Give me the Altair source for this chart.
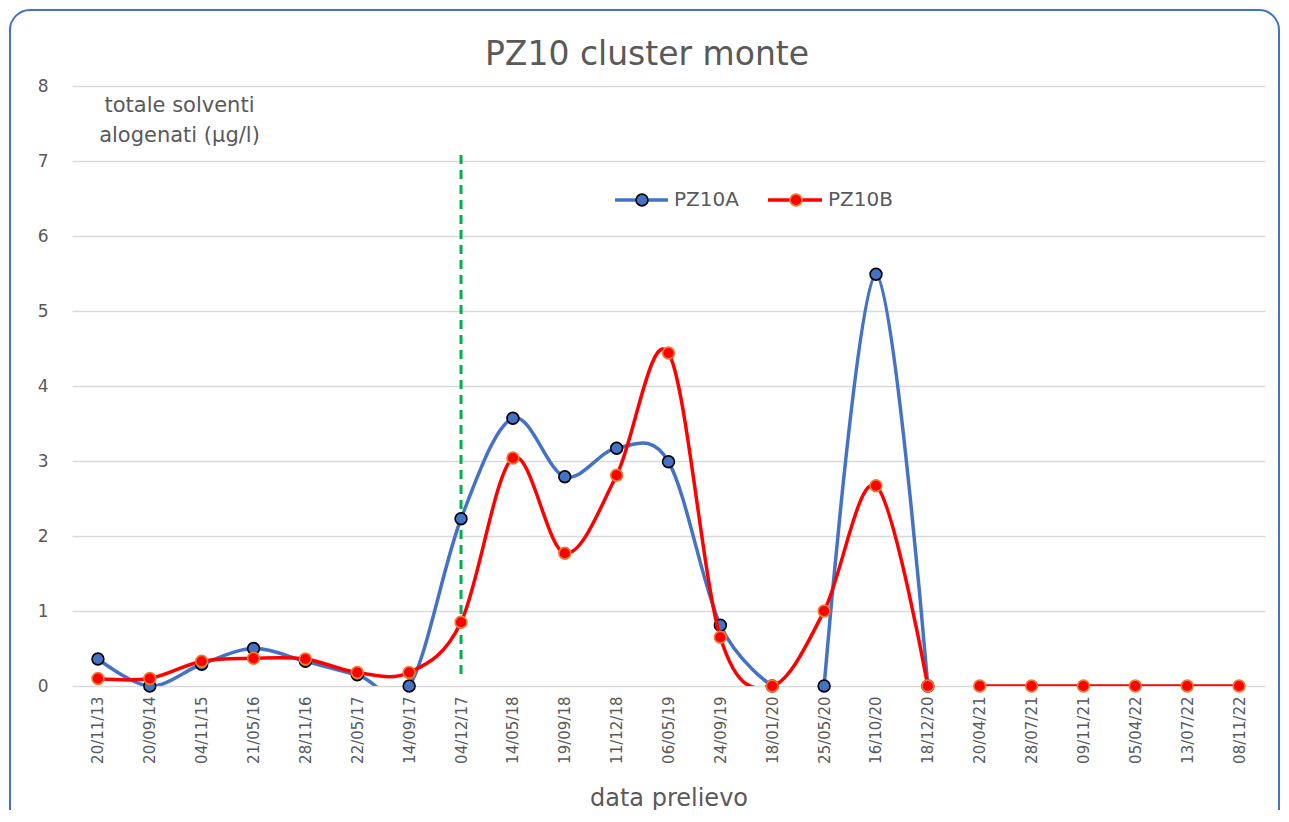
import altair as alt
import pandas as pd

dates = ["20/11/13", "20/09/14", "04/11/15", "21/05/16", "28/11/16", "22/05/17",
         "14/09/17", "04/12/17", "14/05/18", "19/09/18", "11/12/18", "06/05/19",
         "24/09/19", "18/01/20", "25/05/20", "16/10/20", "18/12/20", "20/04/21",
         "28/07/21", "09/11/21", "05/04/22", "13/07/22", "08/11/22"]

pz10a = [0.36, 0.0, 0.29, 0.50, 0.33, 0.15, 0.0, 2.23, 3.57, 2.79, 3.17, 2.99,
         0.81, 0.0, 0.0, 5.49, 0.0, None, None, None, None, None, None]
pz10b = [0.10, 0.10, 0.33, 0.37, 0.36, 0.18, 0.18, 0.85, 3.04, 1.77, 2.81, 4.44,
         0.65, 0.0, 1.0, 2.67, 0.0, 0.0, 0.0, 0.0, 0.0, 0.0, 0.0]
# continuous line pieces of each series (Excel shows gaps between them)
seg_a = [1] * 14 + [2] * 3 + [0] * 6
seg_b = [1] * 17 + [2] * 6

marker_date = "04/12/17"
marker_top, marker_bottom = 7.08, 0.1

rows = []
for d, va, vb, sa, sb in zip(dates, pz10a, pz10b, seg_a, seg_b):
    if va is not None:
        rows.append({"date": d, "value": va, "serie": "PZ10A", "seg": sa})
    rows.append({"date": d, "value": vb, "serie": "PZ10B", "seg": sb})
df = pd.DataFrame(rows)
dfa = df[df.serie == "PZ10A"]
dfb = df[df.serie == "PZ10B"]

FONT = "DejaVu Sans"
GREY = "#595959"
BLUE = "#4472C4"
RED = "#FF0000"
ORANGE = "#ED7D31"

x_enc = alt.X("date:N", sort=dates, scale=alt.Scale(domain=dates, type="point", padding=0.5),
              axis=alt.Axis(title="data prelievo", labelAngle=-90, labelFontSize=15,
                            labelColor=GREY, labelFont=FONT, labelPadding=10,
                            domain=False, ticks=False, grid=False,
                            titleFont=FONT, titleFontSize=24, titleColor=GREY,
                            titleFontWeight="normal", titleY=112, titleBaseline="middle"))
y_enc = alt.Y("value:Q", scale=alt.Scale(domain=[0, 8], nice=False),
              axis=alt.Axis(values=list(range(9)), format="d", labelFontSize=17,
                            labelColor=GREY, labelFont=FONT, labelPadding=24,
                            domain=False, ticks=False,
                            grid=True, gridColor="#D9D9D9", gridWidth=1.5,
                            title=["totale solventi", "alogenati (µg/l)"], titleAngle=0,
                            titleX=107, titleY=8, titleAlign="center", titleBaseline="top",
                            titleFont=FONT, titleFontSize=21, titleColor=GREY,
                            titleFontWeight="normal", titleLineHeight=30))

base_a = alt.Chart(dfa)
base_b = alt.Chart(dfb)

line_a = base_a.mark_line(color=BLUE, strokeWidth=3.5, interpolate="cardinal",
                          tension=0, clip=True).encode(x=x_enc, y=y_enc, detail="seg:N")
pts_a = base_a.mark_point(filled=True, fill=BLUE, stroke="black", strokeWidth=1.6,
                          size=140, opacity=1).encode(x=x_enc, y=y_enc)
line_b = base_b.mark_line(color=RED, strokeWidth=3.5, interpolate="cardinal",
                          tension=0, clip=True).encode(x=x_enc, y=y_enc, detail="seg:N")
pts_b = base_b.mark_point(filled=True, fill=RED, stroke=ORANGE, strokeWidth=1.6,
                          size=140, opacity=1).encode(x=x_enc, y=y_enc)

mk = pd.DataFrame({"date": [marker_date], "top": [marker_top], "bottom": [marker_bottom]})
vline = alt.Chart(mk).mark_rule(color="#00B050", strokeWidth=3, strokeDash=[9, 6]).encode(
    x=alt.X("date:N", sort=dates), y=alt.Y("top:Q"), y2="bottom:Q")

one = pd.DataFrame({"k": [0]})
leg_y = 114
legend_layers = []
for (x1, x2, cx, tx, col, fill, stroke, label) in [
        (543, 596, 570, 602, BLUE, BLUE, "black", "PZ10A"),
        (696, 750, 724, 756, RED, RED, ORANGE, "PZ10B")]:
    legend_layers.append(alt.Chart(one).mark_rule(color=col, strokeWidth=3.5).encode(
        x=alt.value(x1), x2=alt.value(x2), y=alt.value(leg_y)))
    legend_layers.append(alt.Chart(one).mark_point(filled=True, fill=fill, stroke=stroke,
                                                   strokeWidth=1.6, size=140, opacity=1).encode(
        x=alt.value(cx), y=alt.value(leg_y)))
    legend_layers.append(alt.Chart(one).mark_text(text=label, align="left", baseline="middle",
                                                  font=FONT, fontSize=20, color=GREY).encode(
        x=alt.value(tx), y=alt.value(leg_y)))

title = alt.Chart(one).mark_text(text="PZ10 cluster monte", align="center", baseline="middle",
                                 font=FONT, fontSize=33, color=GREY).encode(
    x=alt.value(575), y=alt.value(-31))

border = alt.Chart(one).mark_rect(fillOpacity=0, stroke=BLUE, strokeWidth=2,
                                  cornerRadius=20, clip=False).encode(
    x=alt.value(-62), x2=alt.value(1207), y=alt.value(-76), y2=alt.value(800))

chart = alt.layer(border, title, vline, line_a, pts_a, line_b, pts_b, *legend_layers).properties(
    width=1193, height=600,
    autosize=alt.AutoSizeParams(type="none"),
    padding={"left": 64, "top": 78, "right": 16, "bottom": 124},
).configure_view(stroke=None)

chart.save("out.html", embed_options={"renderer": "svg", "actions": False})
